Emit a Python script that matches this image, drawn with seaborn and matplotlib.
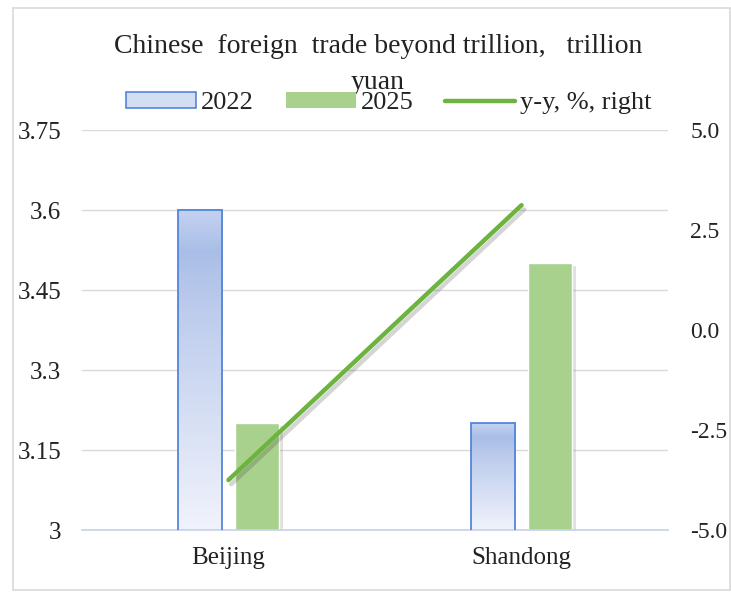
import numpy as np
import pandas as pd
import matplotlib.pyplot as plt
import seaborn as sns
from matplotlib.colors import LinearSegmentedColormap
from matplotlib.patches import Patch, Rectangle
from matplotlib.lines import Line2D
import matplotlib.patheffects as pe

# data
regions = ['Beijing', 'Shandong']
trade_2022 = [3.6, 3.2]
trade_2025 = [3.2, 3.5]
yy_growth = [-3.75, 3.12]

left_ticks = [3.0, 3.15, 3.3, 3.45, 3.6, 3.75]
left_labels = ['3', '3.15', '3.3', '3.45', '3.6', '3.75']
right_ticks = [-5.0, -2.5, 0.0, 2.5, 5.0]
right_labels = ['-5.0', '-2.5', '0.0', '2.5', '5.0']

title = 'Chinese  foreign  trade beyond trillion,   trillion\nyuan'

sns.set_theme(style='white')
plt.rcParams['font.family'] = ['Liberation Serif', 'DejaVu Serif']

blue_edge = '#5585d8'
green_bar = '#a9d18e'
green_line = '#6cb33f'
grid_col = '#d9d9d9'
txt_col = '#222222'

df = pd.DataFrame({
    'region': regions * 2,
    'year': ['2022'] * len(regions) + ['2025'] * len(regions),
    'value': trade_2022 + trade_2025,
})

fig = plt.figure(figsize=(7.31, 5.92), dpi=100)
ax = fig.add_axes([0.112, 0.1047, 0.802, 0.6757])

sns.barplot(data=df, x='region', y='value', hue='year',
            palette={'2022': '#dae3f5', '2025': green_bar},
            width=0.39, gap=0.23, ax=ax, legend=False, saturation=1)

ymin, ymax = 3.0, 3.75

# gradient fill for the 2022 bars
cmap = LinearSegmentedColormap.from_list(
    'bluegrad', [(0, '#f0f3fb'), (0.7, '#bccbed'), (0.87, '#a9bee7'), (1, '#c4d2f0')])
grad = np.linspace(0, 1, 256).reshape(-1, 1)
for bar in ax.containers[0]:
    x0, w, h = bar.get_x(), bar.get_width(), bar.get_height()
    ax.imshow(grad, cmap=cmap, extent=[x0, x0 + w, ymin, h], aspect='auto',
              origin='lower', zorder=2)
    bar.set_facecolor('none')
    bar.set_edgecolor(blue_edge)
    bar.set_linewidth(1.3)
    bar.set_zorder(3)

for bar in ax.containers[1]:
    bar.set_path_effects([pe.SimplePatchShadow(offset=(3, -2), alpha=0.15), pe.Normal()])

ax.set_xlim(-0.5, 1.5)
ax.set_ylim(ymin, ymax)
ax.set_yticks(left_ticks)
ax.set_yticklabels(left_labels)
ax.yaxis.grid(True, color=grid_col, lw=1)
ax.set_axisbelow(True)
ax.set_xlabel('')
ax.set_ylabel('')
ax.tick_params(axis='y', length=0, pad=15, labelsize=18, colors=txt_col)
ax.tick_params(axis='x', length=0, pad=12, labelsize=18, colors=txt_col)
for s in ['left', 'right', 'top']:
    ax.spines[s].set_visible(False)
ax.spines['bottom'].set_color('#c9d3e8')

ax2 = ax.twinx()
sns.lineplot(x=[0, 1], y=yy_growth, ax=ax2, color=green_line, lw=3.2,
             solid_capstyle='round',
             path_effects=[pe.SimpleLineShadow(offset=(2, -3), alpha=0.18), pe.Normal()])
ax2.set_ylim(-5, 5)
ax2.set_yticks(right_ticks)
ax2.set_yticklabels(right_labels)
ax2.tick_params(axis='y', length=0, pad=16, labelsize=17, colors=txt_col)
for s in ax2.spines.values():
    s.set_visible(False)
ax2.set_xlim(-0.5, 1.5)

fig.text(0.517, 0.943, title, ha='center', va='top', fontsize=20, linespacing=1.6,
         color=txt_col)

handles = [
    Patch(facecolor='#d3ddf3', edgecolor=blue_edge, lw=1.2),
    Patch(facecolor=green_bar, edgecolor='none'),
    Line2D([0], [0], color=green_line, lw=3.2),
]
fig.legend(handles, ['2022', '2025', 'y-y, %, right'], loc='center',
           bbox_to_anchor=(0.532, 0.826), ncol=3, frameon=False, fontsize=19,
           handlelength=2.65, handleheight=0.55, handletextpad=0.2,
           columnspacing=1.2, labelcolor=txt_col)

fig.patches.append(Rectangle((0.0174, 0.0034), 0.981, 0.983, transform=fig.transFigure,
                             fill=False, edgecolor=grid_col, lw=1.2))

fig.savefig('out.png', dpi=100)
